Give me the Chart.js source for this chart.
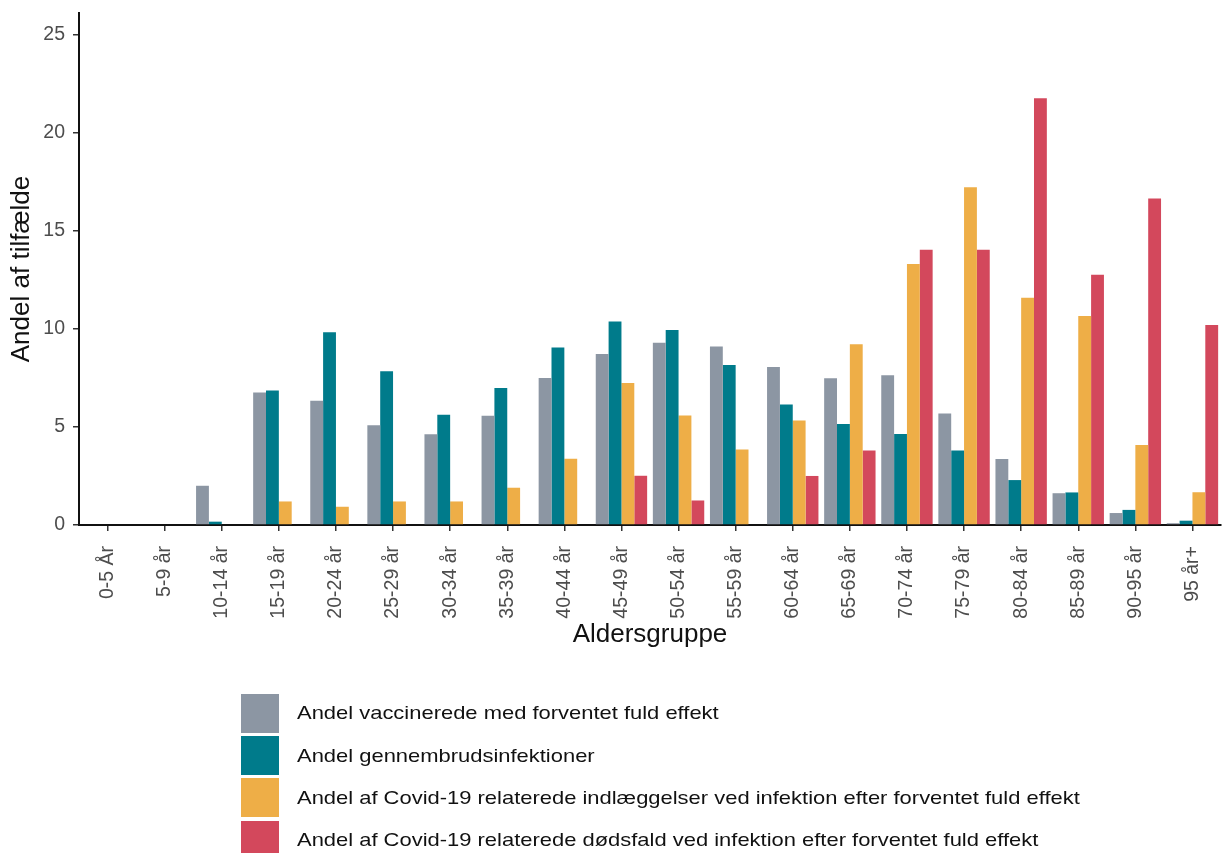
<!DOCTYPE html>
<html>
<head>
<meta charset="utf-8">
<script src="https://cdn.jsdelivr.net/npm/chart.js@4"></script>
<style>
html,body{margin:0;padding:0;background:#fff;}
#wrap{position:relative;width:1226px;height:853px;overflow:hidden;}
#c{position:absolute;left:0;top:0;}
#legend{position:absolute;left:241px;top:692px;font-family:"Liberation Sans",Arial,sans-serif;font-size:19px;color:#111;}
.item{display:flex;align-items:center;height:42.4px;}
.sw{width:38px;height:39px;margin-right:18px;flex:none;}
.tx{display:inline-block;transform:scaleX(1.155);transform-origin:left center;white-space:nowrap;}
</style>
</head>
<body>
<div id="wrap">
<canvas id="c" width="1226" height="853"></canvas>
<div id="legend"></div>
</div>
<script>
const categories = ["0-5 År","5-9 år","10-14 år","15-19 år","20-24 år","25-29 år","30-34 år","35-39 år","40-44 år","45-49 år","50-54 år","55-59 år","60-64 år","65-69 år","70-74 år","75-79 år","80-84 år","85-89 år","90-95 år","95 år+"];
const seriesNames = [
  "Andel vaccinerede med forventet fuld effekt",
  "Andel gennembrudsinfektioner",
  "Andel af Covid-19 relaterede indlæggelser ved infektion efter forventet fuld effekt",
  "Andel af Covid-19 relaterede dødsfald ved infektion efter forventet fuld effekt"
];
const vaccinated   = [0,0,2.0,6.75,6.33,5.08,4.63,5.57,7.49,8.72,9.29,9.10,8.05,7.48,7.63,5.69,3.37,1.62,0.61,0.09];
const breakthrough = [0,0,0.17,6.85,9.82,7.84,5.62,6.98,9.05,10.37,9.94,8.15,6.14,5.15,4.64,3.80,2.29,1.66,0.77,0.22];
const hospital     = [0,0,0,1.20,0.93,1.20,1.20,1.90,3.38,7.24,5.58,3.85,5.33,9.21,13.30,17.22,11.58,10.65,4.08,1.67];
const deaths       = [0,0,0,0,0,0,0,0,0,2.51,1.25,0,2.50,3.80,14.03,14.03,21.75,12.76,16.64,10.19];
const yTicks = [0,5,10,15,20,25];
const colors = ["#8C96A3","#007B8B","#EEAE47","#D3485C"];

const allSeries = [vaccinated, breakthrough, hospital, deaths];
const FONT = '"Liberation Sans", Arial, sans-serif';

const chart = new Chart(document.getElementById('c'), {
  type: 'bar',
  data: {
    datasets: allSeries.map((s, k) => ({
      label: seriesNames[k],
      data: s.map((v, i) => ({x: i, y: v})),
      backgroundColor: colors[k],
      borderWidth: 0,
      categoryPercentage: 0.9,
      barPercentage: 1.0
    }))
  },
  options: {
    responsive: false,
    animation: false,
    devicePixelRatio: 1,
    layout: {padding: {top: 13, right: 5, bottom: 198, left: 0}},
    plugins: {legend: {display: false}, tooltip: {enabled: false}},
    scales: {
      x: {
        type: 'linear',
        min: -0.5,
        max: categories.length - 0.5,
        offset: false,
        afterBuildTicks: (s) => { s.ticks = categories.map((c, i) => ({value: i})); },
        afterFit: (s) => { s.height = 130; s.paddingLeft = 0; s.paddingRight = 0; },
        ticks: {
          autoSkip: false, maxRotation: 90, minRotation: 90,
          padding: 15, color: '#4d4d4d',
          font: {family: FONT, size: 19.5},
          callback: (v) => categories[v]
        },
        grid: {display: true, offset: false, drawOnChartArea: false, drawTicks: true, tickLength: 6, color: '#333', lineWidth: 1.5},
        border: {display: true, color: '#111', width: 2},
        title: {display: true, text: 'Aldersgruppe', color: '#111', font: {family: FONT, size: 26}, padding: {top: 0, bottom: 5}}
      },
      y: {
        min: 0,
        max: 26.1,
        afterBuildTicks: (s) => { s.ticks = yTicks.map(v => ({value: v})); },
        afterFit: (s) => { s.width = 79; s.paddingTop = 0; s.paddingBottom = 0; },
        ticks: {color: '#4d4d4d', padding: 8, font: {family: FONT, size: 19.5}},
        grid: {display: true, drawOnChartArea: false, drawTicks: true, tickLength: 6, color: '#333', lineWidth: 1.5},
        border: {display: true, color: '#111', width: 2},
        title: {display: true, text: 'Andel af tilfælde', color: '#111', font: {family: FONT, size: 26}, padding: {top: 6, bottom: 0}}
      }
    }
  }
});

const legendEl = document.getElementById('legend');
chart.data.datasets.forEach(ds => {
  const row = document.createElement('div');
  row.className = 'item';
  const sw = document.createElement('div');
  sw.className = 'sw';
  sw.style.background = ds.backgroundColor;
  const tx = document.createElement('span');
  tx.className = 'tx';
  tx.textContent = ds.label;
  row.appendChild(sw);
  row.appendChild(tx);
  legendEl.appendChild(row);
});
</script>
</body>
</html>
